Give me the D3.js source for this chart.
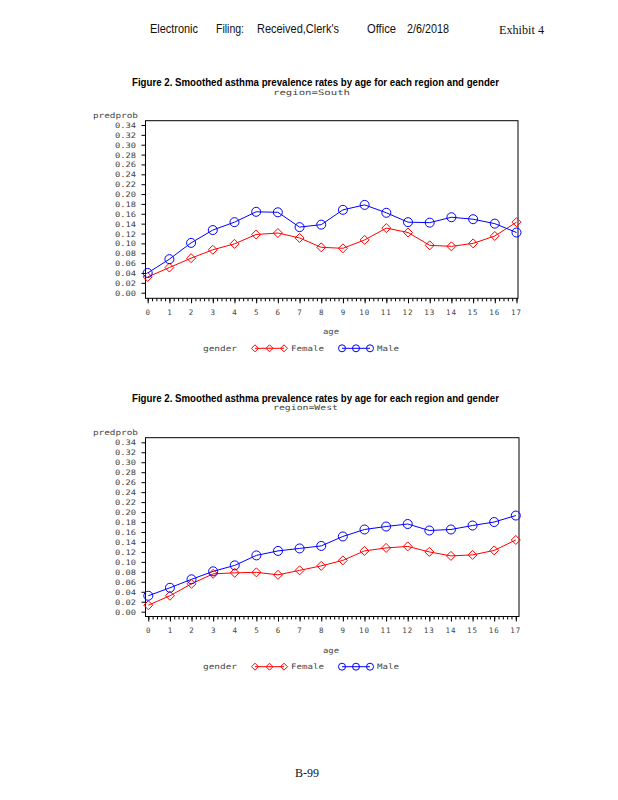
<!DOCTYPE html>
<html><head><meta charset="utf-8">
<script src="https://cdn.jsdelivr.net/npm/d3@7"></script>
<style>html,body{margin:0;padding:0;background:#fff;}svg{display:block;}</style>
</head><body>
<script>
// ---- data ----
const ages = [0,1,2,3,4,5,6,7,8,9,10,11,12,13,14,15,16,17];
const southFemale = [0.032,0.051,0.070,0.087,0.099,0.118,0.121,0.111,0.092,0.090,0.107,0.131,0.122,0.096,0.094,0.100,0.115,0.143];
const southMale   = [0.040,0.068,0.101,0.127,0.143,0.164,0.163,0.133,0.138,0.168,0.178,0.162,0.143,0.142,0.153,0.149,0.140,0.122];
const westFemale  = [0.013,0.032,0.056,0.076,0.078,0.079,0.074,0.083,0.092,0.103,0.122,0.128,0.131,0.120,0.112,0.114,0.123,0.144];
const westMale    = [0.032,0.048,0.065,0.081,0.093,0.113,0.122,0.127,0.132,0.151,0.165,0.171,0.176,0.163,0.165,0.173,0.180,0.193];
const yTickValues = [0,0.02,0.04,0.06,0.08,0.10,0.12,0.14,0.16,0.18,0.20,0.22,0.24,0.26,0.28,0.30,0.32,0.34];
const yTickLabels = ["0.00","0.02","0.04","0.06","0.08","0.10","0.12","0.14","0.16","0.18","0.20","0.22","0.24","0.26","0.28","0.30","0.32","0.34"];
const titleText = "Figure 2. Smoothed asthma prevalence rates by age for each region and gender";
const seriesNames = ["Female","Male"];
const regions = ["South","West"];

const W = 618, H = 800;
const svg = d3.select("body").append("svg").attr("width", W).attr("height", H);

// ---- header ----
const hdr = [
  ["Electronic",150,48],["Filing:",216,28],["Received,Clerk's",257,82],["Office",367,29],["2/6/2018",407,42]
];
hdr.forEach(([t,x,w]) => svg.append("text").attr("x",x).attr("y",33)
  .attr("font-family","Liberation Sans, Arial, sans-serif").attr("font-size",13)
  .attr("textLength",w).attr("lengthAdjust","spacingAndGlyphs").attr("fill","#111").text(t));
svg.append("text").attr("x",499).attr("y",33.5).attr("font-family","Liberation Serif, Times New Roman, serif")
  .attr("font-size",12.5).attr("textLength",45).attr("lengthAdjust","spacingAndGlyphs").attr("fill","#111").text("Exhibit 4");
svg.append("text").attr("x",307).attr("y",777).attr("text-anchor","middle").attr("font-family","Liberation Serif, Times New Roman, serif")
  .attr("font-size",12).attr("fill","#111").text("B-99");

const mono = "DejaVu Sans Mono, Liberation Mono, monospace";
const txt = "#444";

function panel(cfg) {
  const g = svg.append("g");
  const x = d3.scaleLinear().domain([0,17]).range([cfg.x0, cfg.x1]);
  const y = d3.scaleLinear().domain([0,0.34]).range([cfg.y0, cfg.y34]);

  // title
  g.append("text").attr("x",132).attr("y",cfg.titleY).attr("font-family","Liberation Sans, Arial, sans-serif")
    .attr("font-weight","bold").attr("font-size",11).attr("textLength",367).attr("lengthAdjust","spacingAndGlyphs")
    .attr("fill","#000").text(titleText);
  g.append("text").attr("x",cfg.subX).attr("y",cfg.titleY+8.5).attr("font-family",mono).attr("font-size",7.5)
    .attr("textLength",cfg.subW).attr("lengthAdjust","spacingAndGlyphs").attr("fill",txt).text("region=" + cfg.region);

  // frame
  g.append("rect").attr("x",cfg.fx0).attr("y",cfg.fy0).attr("width",cfg.fx1-cfg.fx0).attr("height",cfg.fy1-cfg.fy0)
    .attr("fill","none").attr("stroke","#000").attr("stroke-width",1);

  // y axis
  const yAxis = d3.axisLeft(y).tickValues(yTickValues).tickSize(4).tickPadding(0).tickFormat("");
  const ya = g.append("g").attr("transform",`translate(${cfg.fx0},0)`).call(yAxis);
  ya.select(".domain").remove();
  ya.selectAll("line").attr("stroke","#000");
  yTickValues.forEach((v,i) => g.append("text").attr("x",115).attr("y",y(v)+3).attr("font-family",mono)
    .attr("font-size",7.5).attr("textLength",21).attr("lengthAdjust","spacingAndGlyphs").attr("fill",txt).text(yTickLabels[i]));
  g.append("text").attr("x",93).attr("y",cfg.fy0-3).attr("font-family",mono).attr("font-size",7.5)
    .attr("textLength",45).attr("lengthAdjust","spacingAndGlyphs").attr("fill",txt).text("predprob");

  // x axis: major + minor
  const minor = d3.range(0, 17.0001, 0.2);
  const xm = g.append("g").attr("transform",`translate(0,${cfg.fy1})`)
    .call(d3.axisBottom(x).tickValues(minor).tickSize(3).tickFormat(""));
  xm.select(".domain").remove();
  const xa = g.append("g").attr("transform",`translate(0,${cfg.fy1})`)
    .call(d3.axisBottom(x).tickValues(ages).tickSize(5).tickFormat(""));
  xa.select(".domain").remove();
  g.selectAll(".tick line").attr("stroke","#000");
  ages.forEach(a => g.append("text").attr("x",x(a)).attr("y",cfg.fy1+16.5).attr("text-anchor","middle")
    .attr("font-family",mono).attr("font-size",7.5).attr("letter-spacing",a>9?1:0).attr("fill",txt).text(String(a)));
  g.append("text").attr("x",331).attr("y",cfg.fy1+36).attr("text-anchor","middle").attr("font-family",mono)
    .attr("font-size",7.5).attr("textLength",16).attr("lengthAdjust","spacingAndGlyphs").attr("fill",txt).text("age");

  // series
  const line = d3.line().x((d,i)=>x(ages[i])).y(d=>y(d));
  const diamond = (cx,cy,r)=>`M${cx},${cy-r}L${cx+r},${cy}L${cx},${cy+r}L${cx-r},${cy}Z`;
  g.append("path").datum(cfg.female).attr("d",line).attr("fill","none").attr("stroke","#ff0000").attr("stroke-width",1);
  g.append("path").datum(cfg.male).attr("d",line).attr("fill","none").attr("stroke","#0000ff").attr("stroke-width",1);
  g.selectAll(null).data(cfg.female).enter().append("path")
    .attr("d",(d,i)=>diamond(x(ages[i]),y(d),4.5)).attr("fill","none").attr("stroke","#ff0000").attr("stroke-width",1);
  g.selectAll(null).data(cfg.male).enter().append("circle")
    .attr("cx",(d,i)=>x(ages[i])).attr("cy",d=>y(d)).attr("r",4.5).attr("fill","none").attr("stroke","#0000ff").attr("stroke-width",1);

  // legend
  const ly = cfg.legY;
  g.append("text").attr("x",203).attr("y",ly+2.5).attr("font-family",mono).attr("font-size",7.5)
    .attr("textLength",34).attr("lengthAdjust","spacingAndGlyphs").attr("fill",txt).text("gender");
  const legs = [
    {name:seriesNames[0], color:"#ff0000", x0:255, x1:284, tx:291, tw:33, shape:"d"},
    {name:seriesNames[1], color:"#0000ff", x0:342, x1:370, tx:377, tw:22, shape:"c"}
  ];
  legs.forEach(l => {
    g.append("line").attr("x1",l.x0).attr("x2",l.x1).attr("y1",ly).attr("y2",ly).attr("stroke",l.color).attr("stroke-width",1);
    [l.x0,(l.x0+l.x1)/2,l.x1].forEach(cx => {
      if (l.shape==="d") g.append("path").attr("d",diamond(cx,ly,3.5)).attr("fill","none").attr("stroke",l.color);
      else g.append("circle").attr("cx",cx).attr("cy",ly).attr("r",3.5).attr("fill","none").attr("stroke",l.color);
    });
    g.append("text").attr("x",l.tx).attr("y",ly+2.5).attr("font-family",mono).attr("font-size",7.5)
      .attr("textLength",l.tw).attr("lengthAdjust","spacingAndGlyphs").attr("fill",txt).text(l.name);
  });
}

panel({region:regions[0], female:southFemale, male:southMale,
  x0:147.7, x1:516.5, y0:292.7, y34:125, fx0:145.5, fx1:518, fy0:120.7, fy1:298.3,
  titleY:86, subX:273, subW:77, legY:348.3});
panel({region:regions[1], female:westFemale, male:westMale,
  x0:148.3, x1:515.8, y0:611.7, y34:442.3, fx0:145.5, fx1:519, fy0:437.7, fy1:616.5,
  titleY:401.5, subX:273, subW:65, legY:666.7});
</script>
</body></html>
